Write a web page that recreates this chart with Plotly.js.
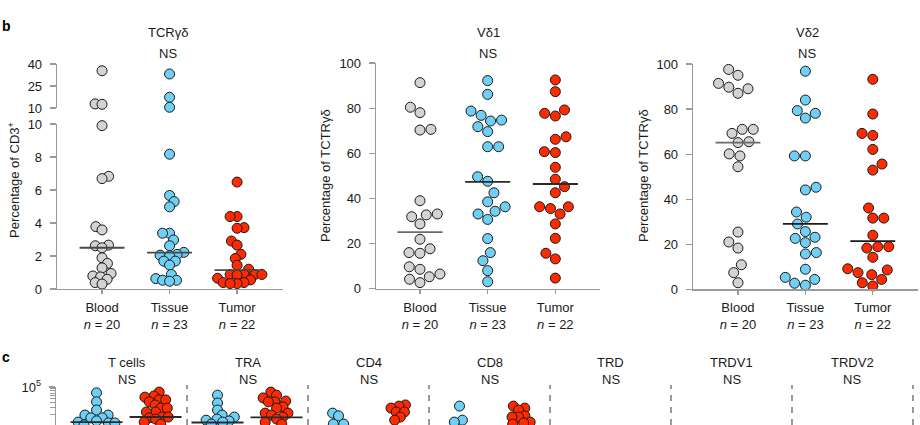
<!DOCTYPE html>
<html><head><meta charset="utf-8">
<script src="https://cdn.plot.ly/plotly-3.0.1.min.js"></script>
<style>html,body{margin:0;padding:0;background:#fff}#chart{width:920px;height:425px}</style>
</head><body><div id="chart"></div>
<script>
// ---------------- DATA ----------------
const groups = ['Blood', 'Tissue', 'Tumor'];
const groupN = [20, 23, 22];

// Panel b1: TCRγδ, percentage of CD3+
const tcrBlood  = [35.4, 12.8, 12.5, 9.9, 6.83, 6.69, 3.78, 3.58, 2.66, 2.62, 2.5, 1.89, 1.55, 1.28, 0.94, 0.79, 0.73, 0.59, 0.39, 0.30];
const tcrTissue = [33.2, 17.3, 10.5, 8.17, 5.67, 5.3, 4.98, 3.38, 3.38, 2.97, 2.62, 2.22, 2.1, 2.05, 2.01, 1.69, 1.69, 1.45, 0.88, 0.63, 0.53, 0.53, 0.47];
const tcrTumor  = [6.48, 4.39, 4.39, 3.72, 3.68, 2.91, 2.66, 2.1, 1.85, 1.44, 1.2, 0.88, 0.88, 0.88, 0.88, 0.85, 0.65, 0.55, 0.39, 0.39, 0.33, 0.33];
const tcrMedian = [2.5, 2.2, 1.15];

// Panel b2: Vδ1, percentage of TCRγδ
const vd1Blood  = [91.3, 80.4, 78.0, 70.6, 70.3, 39.0, 33.1, 32.7, 31.9, 28.7, 21.9, 17.7, 16.0, 15.7, 9.7, 8.6, 6.5, 5.3, 4.2, 2.7];
const vd1Tissue = [92.2, 86.1, 78.7, 76.8, 74.7, 74.3, 71.8, 69.6, 62.9, 62.9, 49.6, 47.6, 42.5, 38.5, 36.3, 34.3, 33.1, 30.7, 22.2, 16.0, 12.4, 8.0, 3.1];
const vd1Tumor  = [92.5, 87.3, 79.2, 77.7, 76.5, 67.3, 66.2, 60.7, 60.3, 53.8, 48.5, 45.2, 42.5, 36.3, 36.3, 35.5, 33.1, 28.7, 22.3, 15.7, 13.2, 4.7];
const vd1Median = [25.1, 47.3, 46.4];

// Panel b3: Vδ2, percentage of TCRγδ
const vd2Blood  = [97.6, 95.0, 91.4, 89.7, 89.0, 87.0, 71.0, 71.0, 69.2, 65.5, 65.1, 60.1, 59.2, 54.4, 25.4, 21.0, 18.3, 10.9, 7.4, 2.9];
const vd2Tissue = [96.8, 84.0, 79.3, 78.1, 76.0, 59.2, 59.2, 45.3, 44.1, 34.3, 32.0, 29.0, 25.6, 23.1, 22.6, 20.7, 16.3, 15.7, 8.9, 5.3, 4.4, 2.7, 1.8];
const vd2Tumor  = [93.2, 77.8, 69.2, 68.3, 62.1, 55.6, 52.9, 36.1, 31.6, 31.6, 24.0, 18.9, 18.9, 18.3, 14.2, 9.1, 8.6, 7.4, 6.5, 4.4, 2.9, 1.5];
const vd2Median = [65.1, 29.0, 21.4];

// Panel c (only the top of it is visible)
const cCategories = ['T cells', 'TRA', 'CD4', 'CD8', 'TRD', 'TRDV1', 'TRDV2'];
const cLabels = ['NS', 'NS', 'NS', 'NS', 'NS', 'NS', 'NS'];
const tcellsBlue = [70800, 41700, 25700, 19100, 19100, 16200, 16200, 13500, 12600, 12000, 12000, 10700, 10000, 9300, 8900];
const tcellsRed  = [74100, 58900, 55000, 46800, 46800, 41700, 34700, 28800, 28800, 22900, 22900, 17000, 17000, 16200, 15100, 12600, 11200, 10000, 8900];
const traBlue    = [61700, 38900, 25700, 19100, 17000, 15100, 14100, 13500, 12600, 11200, 10000];
const traRed     = [74100, 61700, 52500, 43700, 41700, 41700, 30900, 28800, 21400, 21400, 19100, 17000, 15100, 12600, 11200, 10000, 8900];
const cd4Blue    = [21400, 18200, 11200, 11200, 8900];
const cd4Red     = [34700, 32400, 28800, 22900, 22900, 17000, 14100, 10000];
const cd8Blue    = [32400, 14100, 12600, 10000];
const cd8Red     = [32400, 28800, 25700, 18200, 17000, 17000, 12600, 12000, 11200, 9500];
const tcellsMedian = [12600, 17000];
const traMedian    = [12300, 16600];

// ---------------- STYLE / GEOMETRY ----------------
const W = 920, H = 425;
const COL = {grey: '#d3d3d3', blue: '#6fd0f6', red: '#ff2a00', edge: '#1a1a1a', axis: '#9a9a9a', text: '#1a1a1a'};
const FONT = 'Liberation Sans, Arial, Helvetica, sans-serif';
const fx = px => px / W;
const fy = px => 1 - px / H;

const G = {
  b1: {x0: 57, x1: 283, xr: [-0.667, 2.68], lo: {t: 124, b: 289, r: [0, 10]}, hi: {t: 64, b: 108, r: [10, 40]}},
  b2: {x0: 376, x1: 600, xr: [-0.65, 2.66], y: {t: 63, b: 288.7, r: [0, 100]}},
  b3: {x0: 693, x1: 918, xr: [-0.667, 2.67], y: {t: 64, b: 289.3, r: [0, 100]}},
  c:  {x0: 56, x1: 920, xr: [-0.583, 6.558], y: {t: 387, b: 425, r: [4.026, 5]}}
};
function ypx(ax, v, log) {
  const val = log ? Math.log10(v) : v;
  return ax.t + (ax.r[1] - val) / (ax.r[1] - ax.r[0]) * (ax.b - ax.t);
}
function pxPerUnitX(g) { return (g.x1 - g.x0) / (g.xr[1] - g.xr[0]); }

// beeswarm in pixel space: returns x offsets (px)
function swarm(py, d) {
  const order = py.map((_, i) => i).sort((a, b) => py[b] - py[a]);
  const placed = [], off = new Array(py.length).fill(0);
  let flip = 1;
  for (const i of order) {
    const y = py[i];
    const c = [0];
    for (const p of placed) {
      const dy = y - p.y;
      if (Math.abs(dy) < d) { const dx = Math.sqrt(d * d - dy * dy); c.push(p.x + dx, p.x - dx); }
    }
    c.sort((a, b) => (Math.abs(a) - Math.abs(b)) || (flip * (a - b)));
    let chosen = 0;
    for (const x of c) {
      let ok = true;
      for (const p of placed) { const dx = x - p.x, dy = y - p.y; if (dx * dx + dy * dy < d * d - 0.01) { ok = false; break; } }
      if (ok) { chosen = x; break; }
    }
    if (chosen !== 0) flip = -flip;
    off[i] = chosen; placed.push({x: chosen, y});
  }
  return off;
}

const traces = [];
function marker(color) { return {size: 10, color, line: {color: COL.edge, width: 1}}; }

// panel b1 (broken axis)
function addB1(vals, cat, color) {
  const g = G.b1, k = pxPerUnitX(g);
  const py = vals.map(v => v > 10 ? ypx(g.hi, v) : ypx(g.lo, v));
  const off = swarm(py, 7);
  const lo = {x: [], y: []}, hi = {x: [], y: []};
  vals.forEach((v, i) => { const t = v > 10 ? hi : lo; t.x.push(cat + off[i] / k); t.y.push(v); });
  traces.push({type: 'scatter', mode: 'markers', x: lo.x, y: lo.y, xaxis: 'x', yaxis: 'y', marker: marker(color), cliponaxis: false, hoverinfo: 'y'});
  traces.push({type: 'scatter', mode: 'markers', x: hi.x, y: hi.y, xaxis: 'x', yaxis: 'y2', marker: marker(color), cliponaxis: false, hoverinfo: 'y'});
}
addB1(tcrBlood, 0, COL.grey); addB1(tcrTissue, 1, COL.blue); addB1(tcrTumor, 2, COL.red);

function addPanel(vals, cat, color, g, xa, ya, d, log) {
  const k = pxPerUnitX(g);
  const off = swarm(vals.map(v => ypx(g.y, v, log)), d);
  traces.push({type: 'scatter', mode: 'markers', x: vals.map((v, i) => cat + off[i] / k), y: vals, xaxis: xa, yaxis: ya,
    marker: marker(color), cliponaxis: false, hoverinfo: 'y'});
}
addPanel(vd1Blood, 0, COL.grey, G.b2, 'x2', 'y3', 11);
addPanel(vd1Tissue, 1, COL.blue, G.b2, 'x2', 'y3', 11);
addPanel(vd1Tumor, 2, COL.red, G.b2, 'x2', 'y3', 11);
addPanel(vd2Blood, 0, COL.grey, G.b3, 'x3', 'y4', 11);
addPanel(vd2Tissue, 1, COL.blue, G.b3, 'x3', 'y4', 11);
addPanel(vd2Tumor, 2, COL.red, G.b3, 'x3', 'y4', 11);

// panel c
const cOffB = -0.248, cOffR = 0.24;
[[tcellsBlue, tcellsRed], [traBlue, traRed], [cd4Blue, cd4Red], [cd8Blue, cd8Red]].forEach((pair, i) => {
  addPanel(pair[0], i + cOffB, COL.blue, G.c, 'x4', 'y5', 6.5, true);
  addPanel(pair[1], i + cOffR, COL.red, G.c, 'x4', 'y5', 6.5, true);
});

// median lines
function medLine(cat, m, xa, ya, hw, color) {
  traces.push({type: 'scatter', mode: 'lines', x: [cat - hw, cat + hw], y: [m, m], xaxis: xa, yaxis: ya,
    line: {color, width: 1.8}, cliponaxis: false, hoverinfo: 'skip'});
}
tcrMedian.forEach((m, i) => medLine(i, m, 'x', 'y', 0.333, '#4a4a4a'));
vd1Median.forEach((m, i) => medLine(i, m, 'x2', 'y3', 0.333, i === 0 ? '#6a6a6a' : '#2a2a2a'));
vd2Median.forEach((m, i) => medLine(i, m, 'x3', 'y4', 0.333, i === 0 ? '#6a6a6a' : '#1a1a1a'));
[tcellsMedian, traMedian].forEach((pair, i) => {
  medLine(i + cOffB, pair[0], 'x4', 'y5', 0.215, '#2a2a2a');
  medLine(i + cOffR, pair[1], 'x4', 'y5', 0.215, '#2a2a2a');
});

// ---------------- AXES ----------------
const tickFont = {family: FONT, size: 13, color: COL.text};
const catText = groups.map((g, i) => g + '<br><i>n</i> = ' + groupN[i]);
function xAxis(g, anchor) {
  return {domain: [fx(g.x0), fx(g.x1)], range: g.xr, anchor, showline: true, linecolor: COL.axis, linewidth: 1.3,
    ticks: 'outside', ticklen: 4, tickcolor: COL.axis, tickwidth: 1.2, tickvals: [0, 1, 2], ticktext: catText,
    tickfont: tickFont, showgrid: false, zeroline: false, fixedrange: true, ticklabelstandoff: 2};
}
function yAxis(a, anchor, tickvals) {
  return {domain: [fy(a.b), fy(a.t)], range: a.r, anchor, showline: true, linecolor: COL.axis, linewidth: 1.3,
    ticks: 'outside', ticklen: 6, tickcolor: COL.axis, tickwidth: 1.2, tickvals, tickfont: tickFont,
    showgrid: false, zeroline: false, fixedrange: true, ticklabelstandoff: 5};
}
const cMajor = [100000];
const cMinor = [20000, 30000, 40000, 50000, 60000, 70000, 80000, 90000];

const layout = {
  width: W, height: H, margin: {l: 0, r: 0, t: 0, b: 0}, showlegend: false,
  paper_bgcolor: '#fff', plot_bgcolor: 'rgba(0,0,0,0)', font: {family: FONT, size: 13, color: COL.text},
  xaxis: xAxis(G.b1, 'y'),
  yaxis: yAxis(G.b1.lo, 'x', [0, 2, 4, 6, 8, 10]),
  yaxis2: yAxis(G.b1.hi, 'x', [10, 25, 40]),
  xaxis2: xAxis(G.b2, 'y3'),
  yaxis3: yAxis(G.b2.y, 'x2', [0, 20, 40, 60, 80, 100]),
  xaxis3: xAxis(G.b3, 'y4'),
  yaxis4: yAxis(G.b3.y, 'x3', [0, 20, 40, 60, 80, 100]),
  xaxis4: {domain: [fx(G.c.x0), fx(G.c.x1)], range: G.c.xr, anchor: 'y5', visible: false, fixedrange: true},
  yaxis5: Object.assign(yAxis(G.c.y, 'x4', cMajor), {type: 'log', ticklen: 6,
    ticktext: ['10<sup>5</sup>'],
    minor: {tickmode: 'array', tickvals: cMinor, ticks: 'outside', ticklen: 5, tickcolor: COL.axis, tickwidth: 1, showgrid: false}}),
  shapes: [], annotations: []
};

for (let i = 0; i < cCategories.length; i++) {
  layout.shapes.push({type: 'line', xref: 'x4', yref: 'paper', x0: i + 0.5, x1: i + 0.5, y0: 0, y1: fy(385),
    line: {color: '#7a7a7a', width: 1.5, dash: '6px,6px'}});
}

function ann(text, xp, yp, extra) {
  layout.annotations.push(Object.assign({text, x: fx(xp), y: fy(yp), xref: 'paper', yref: 'paper', showarrow: false,
    xanchor: 'center', yanchor: 'middle', font: {family: FONT, size: 13, color: COL.text}}, extra || {}));
}
ann('<b>b</b>', 0, 26, {xanchor: 'left', font: {family: FONT, size: 14, color: '#000'}});
ann('<b>c</b>', 0, 357, {xanchor: 'left', font: {family: FONT, size: 14, color: '#000'}});
ann('TCRγδ', 168, 33); ann('NS', 168, 53);
ann('Vδ1', 488, 33); ann('NS', 488, 53);
ann('Vδ2', 807, 33); ann('NS', 807, 53);
ann('Percentage of CD3<sup>+</sup>', 14, 180, {textangle: -90});
ann('Percentage of TCTRγδ', 326, 176, {textangle: -90});
ann('Percentage of TCTRγδ', 644, 176, {textangle: -90});
cCategories.forEach((c, i) => {
  layout.annotations.push({text: c, x: i, y: fy(362), xref: 'x4', yref: 'paper', showarrow: false, xanchor: 'center', yanchor: 'middle', font: {family: FONT, size: 13, color: COL.text}});
  layout.annotations.push({text: cLabels[i], x: i, y: fy(379), xref: 'x4', yref: 'paper', showarrow: false, xanchor: 'center', yanchor: 'middle', font: {family: FONT, size: 13, color: COL.text}});
});

Plotly.newPlot('chart', traces, layout, {staticPlot: true, displayModeBar: false});
</script></body></html>
